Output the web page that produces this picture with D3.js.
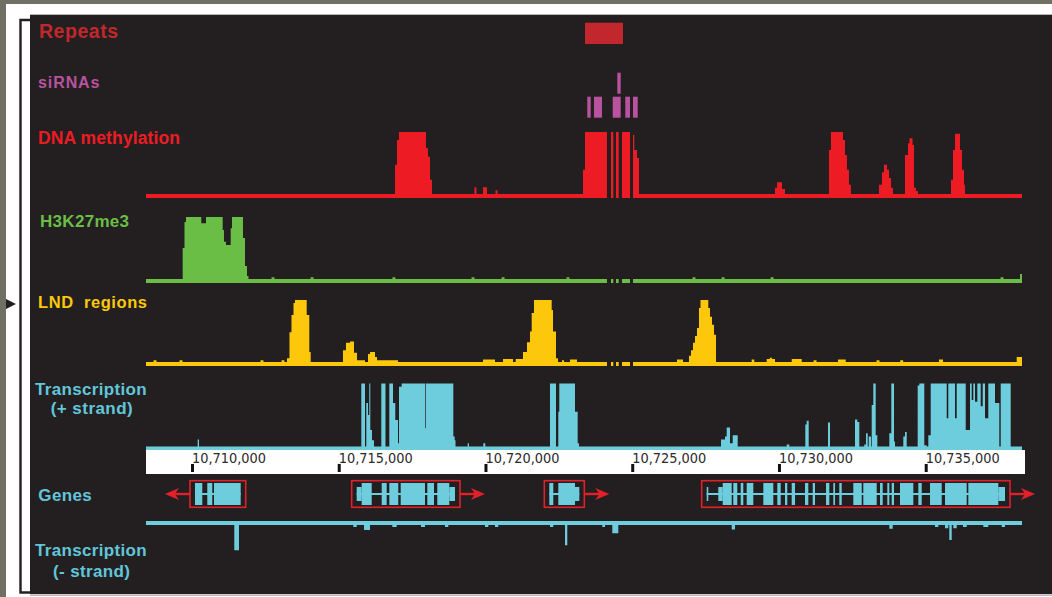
<!DOCTYPE html>
<html>
<head>
<meta charset="utf-8">
<script src="https://cdn.jsdelivr.net/npm/d3@7"></script>
<style>
  html, body { margin: 0; padding: 0; background: #fff; }
  svg { display: block; font-family: "Liberation Sans", Arial, sans-serif; }
</style>
</head>
<body>
<svg id="chart" width="1052" height="597"></svg>
<script>
// ---- Genomic window (bp) and ruler ticks ----
const regionStart = 10708433;
const regionEnd = 10738281;
const tickPositions = [10710000, 10715000, 10720000, 10725000, 10730000, 10735000];

// Unmappable stretches inside the repeat: no signal reported
const unmappedGaps = [
  [10724140, 10724277], [10724355, 10724447], [10724539, 10724652], [10724924, 10725027]
];

// Repeat annotation [start, end]
const repeats = [[10723391, 10724686]];

// siRNA clusters [start, end, row]
const sirnas = [
  [10724492, 10724607, 0],
  [10723469, 10723585, 1], [10723698, 10723970, 1], [10724335, 10724607, 1],
  [10724764, 10724924, 1], [10725027, 10725187, 1]
];

// Binned signal tracks [start, end, relative signal]
const methylation = [
  [10716917, 10716985, 0.47], [10716985, 10717053, 0.87], [10717053, 10717973, 1.0],
  [10717973, 10718041, 0.74], [10718041, 10718110, 0.60], [10718110, 10718178, 0.23],
  [10719626, 10719694, 0.11], [10719916, 10720052, 0.11], [10720341, 10720409, 0.06],
  [10723323, 10723391, 0.39], [10723391, 10724140, 1.0], [10724277, 10724355, 1.0],
  [10724447, 10724539, 1.0], [10724652, 10724924, 1.0], [10725027, 10725071, 0.95],
  [10725071, 10725163, 0.71], [10725163, 10725231, 0.58],
  [10729865, 10729933, 0.10], [10729933, 10730103, 0.19], [10730103, 10730205, 0.08],
  [10731704, 10731772, 0.71], [10731772, 10732181, 1.0], [10732181, 10732249, 0.87],
  [10732249, 10732317, 0.63], [10732317, 10732385, 0.39], [10732385, 10732453, 0.15],
  [10733407, 10733510, 0.15], [10733510, 10733579, 0.35], [10733579, 10733681, 0.47],
  [10733681, 10733749, 0.39], [10733749, 10733817, 0.26], [10733817, 10733885, 0.10],
  [10734294, 10734396, 0.63], [10734396, 10734447, 0.82], [10734447, 10734550, 0.90],
  [10734550, 10734601, 0.79], [10734601, 10734669, 0.10], [10734669, 10734737, 0.05],
  [10735862, 10735930, 0.23], [10735930, 10735998, 0.71], [10735998, 10736169, 0.97],
  [10736169, 10736237, 0.71], [10736237, 10736305, 0.39], [10736305, 10736339, 0.15]
];

const h3k27me3 = [
  [10709683, 10709744, 0.50], [10709744, 10709796, 0.92], [10709796, 10710317, 1.0],
  [10710317, 10710477, 0.90], [10710477, 10711046, 1.0], [10711046, 10711090, 0.79],
  [10711090, 10711159, 0.60], [10711159, 10711319, 0.55], [10711319, 10711363, 0.82],
  [10711363, 10711738, 1.0], [10711738, 10711806, 0.66], [10711806, 10711874, 0.21],
  [10711874, 10711925, 0.05],
  [10712710, 10712810, 0.03], [10714040, 10714140, 0.03], [10716830, 10716930, 0.03],
  [10719525, 10719625, 0.03], [10720550, 10720650, 0.03], [10722760, 10722860, 0.03],
  [10727055, 10727155, 0.03], [10728045, 10728145, 0.03], [10729715, 10729815, 0.03],
  [10737550, 10737650, 0.03], [10738213, 10738281, 0.08]
];

const lnd = [
  [10708690, 10708790, 0.03], [10709575, 10709675, 0.03], [10712335, 10712435, 0.03],
  [10713050, 10713150, 0.03],
  [10713237, 10713322, 0.06], [10713322, 10713390, 0.48], [10713390, 10713459, 0.76],
  [10713459, 10713510, 0.95], [10713510, 10713908, 1.0], [10713908, 10713997, 0.76],
  [10713997, 10714045, 0.16],
  [10715145, 10715247, 0.19], [10715247, 10715384, 0.31], [10715384, 10715520, 0.33],
  [10715520, 10715622, 0.15], [10715622, 10715895, 0.03], [10715997, 10716065, 0.13],
  [10716065, 10716236, 0.16], [10716236, 10716304, 0.08], [10716304, 10717019, 0.03],
  [10719916, 10720324, 0.04], [10720597, 10720938, 0.05], [10721030, 10721278, 0.05],
  [10721278, 10721415, 0.16], [10721415, 10721517, 0.32], [10721517, 10721575, 0.49],
  [10721575, 10721653, 0.79], [10721653, 10722256, 1.0], [10722256, 10722301, 0.84],
  [10722301, 10722403, 0.49], [10722403, 10722471, 0.06],
  [10722608, 10722676, 0.03], [10722880, 10723118, 0.04], [10726526, 10726730, 0.04],
  [10726935, 10727003, 0.10], [10727003, 10727071, 0.19], [10727071, 10727139, 0.31],
  [10727139, 10727207, 0.42], [10727207, 10727275, 0.55], [10727275, 10727326, 0.87],
  [10727326, 10727592, 1.0], [10727592, 10727650, 0.87], [10727650, 10727718, 0.73],
  [10727718, 10727787, 0.60], [10727787, 10727855, 0.44],
  [10729070, 10729160, 0.04], [10729582, 10729690, 0.05], [10729690, 10729760, 0.07],
  [10729760, 10729865, 0.05], [10730434, 10730775, 0.05], [10731180, 10731280, 0.03],
  [10732012, 10732274, 0.04], [10733325, 10733425, 0.03], [10734132, 10734232, 0.03],
  [10735453, 10735590, 0.04], [10738101, 10738281, 0.08]
];

const transcriptionPlus = [
  [10710194, 10710239, 0.11],
  [10715769, 10715895, 1.0], [10715939, 10715997, 0.69], [10715997, 10716041, 0.50],
  [10716041, 10716075, 1.0], [10716075, 10716133, 0.26], [10716133, 10716201, 0.10],
  [10716450, 10716593, 1.0], [10716723, 10716849, 1.0], [10716849, 10716927, 0.69],
  [10716927, 10717019, 0.42], [10717019, 10717053, 0.05], [10717053, 10717145, 0.95],
  [10717145, 10717950, 1.0], [10717950, 10717973, 0.29], [10717973, 10718904, 1.0],
  [10718904, 10718951, 0.16], [10718951, 10718979, 0.10],
  [10719394, 10719438, 0.05], [10719926, 10719994, 0.05],
  [10722198, 10722403, 1.0], [10722481, 10722515, 0.55], [10722515, 10723050, 1.0],
  [10723050, 10723142, 0.55], [10723142, 10723187, 0.05],
  [10728025, 10728161, 0.11], [10728161, 10728219, 0.16], [10728219, 10728332, 0.30],
  [10728332, 10728424, 0.05], [10728424, 10728594, 0.18],
  [10730264, 10730352, 0.03], [10730898, 10730945, 0.35], [10730945, 10731013, 0.41],
  [10731671, 10731739, 0.38], [10732591, 10732670, 0.43], [10732670, 10732738, 0.39],
  [10732908, 10732966, 0.03], [10732966, 10733024, 0.21], [10733058, 10733136, 0.16],
  [10733160, 10733215, 0.66], [10733215, 10733296, 1.0], [10733296, 10733351, 0.18],
  [10733760, 10733828, 0.21], [10733828, 10733920, 1.0], [10733920, 10733954, 0.08],
  [10734237, 10734295, 0.16], [10734295, 10734353, 0.23],
  [10734727, 10734782, 0.97], [10734782, 10734952, 1.0], [10734952, 10735034, 0.02],
  [10735089, 10735171, 0.18], [10735171, 10735716, 1.0], [10735716, 10735770, 0.45],
  [10735770, 10735998, 1.0], [10735998, 10736056, 0.45], [10736056, 10736363, 1.0],
  [10736363, 10736510, 0.26], [10736510, 10736567, 1.0], [10736567, 10736622, 0.74],
  [10736622, 10736680, 1.0], [10736680, 10736759, 0.71], [10736759, 10736874, 1.0],
  [10736874, 10736942, 0.64], [10736942, 10737021, 1.0], [10737021, 10737133, 0.45],
  [10737133, 10737361, 1.0], [10737361, 10737508, 0.69], [10737556, 10737896, 1.0]
];

const transcriptionMinus = [
  [10711441, 10711601, 0.40], [10715496, 10715612, 0.03], [10715861, 10716065, 0.08],
  [10716825, 10716975, 0.03], [10717803, 10717939, 0.03], [10718621, 10718733, 0.03],
  [10719984, 10720096, 0.03], [10720324, 10720437, 0.03], [10722198, 10722311, 0.03],
  [10722710, 10722788, 0.32], [10723981, 10724073, 0.03], [10724321, 10724526, 0.13],
  [10728390, 10728502, 0.07], [10733760, 10733876, 0.06], [10735317, 10735430, 0.03],
  [10735658, 10735770, 0.05], [10735804, 10735886, 0.24], [10735941, 10736056, 0.05],
  [10736271, 10736397, 0.03], [10736963, 10737133, 0.03], [10737590, 10737702, 0.03]
];

// Gene models: exon blocks [start, end, kind]
const gene1Exons = [
  [10710102, 10710351, "cds"], [10710521, 10710692, "cds"], [10710750, 10711659, "cds"]
];
const gene2Exons = [
  [10715612, 10715782, "utr"], [10715782, 10716123, "cds"], [10716464, 10716634, "cds"],
  [10716723, 10717029, "cds"], [10717111, 10717939, "cds"], [10718018, 10718246, "cds"],
  [10718358, 10718767, "cds"], [10718767, 10718961, "utr"]
];
const gene3Exons = [
  [10722175, 10722311, "cds"], [10722481, 10723050, "cds"], [10723050, 10723197, "utr"]
];
const gene4Exons = [
  [10727538, 10727592, "utr"], [10727933, 10728083, "utr"], [10728083, 10728390, "cds"],
  [10728444, 10728580, "cds"], [10728697, 10728785, "cds"], [10728901, 10729126, "cds"],
  [10729467, 10729807, "cds"], [10729944, 10730059, "cds"], [10730206, 10730284, "cds"],
  [10730434, 10730547, "cds"], [10730887, 10731000, "cds"], [10731150, 10731228, "cds"],
  [10731603, 10731716, "cds"], [10731852, 10731910, "cds"], [10732056, 10732138, "cds"],
  [10732533, 10732820, "cds"], [10732874, 10733330, "cds"], [10733443, 10733535, "cds"],
  [10733692, 10733760, "cds"], [10733841, 10733920, "cds"], [10734124, 10734578, "cds"],
  [10734748, 10734864, "cds"], [10735147, 10735545, "cds"], [10735658, 10736397, "cds"],
  [10736452, 10737474, "cds"], [10737474, 10737702, "utr"]
];
const geneStrands = ["-", "+", "+", "+"];

// ---- Drawing ----
const svg = d3.select("#chart");
const W = 1052, Hpx = 597;
const C = {
  panel: "#231f20", repeat: "#c1272d", sirna: "#b9529f", methyl: "#ed1c24",
  green: "#6abd45", yellow: "#fdc80c", cyan: "#6dcddd", cyanText: "#62c6da",
  box: "#e2202a"
};

// page frame
svg.append("rect").attr("width", W).attr("height", Hpx).attr("fill", "#fff");
svg.append("rect").attr("x", 0).attr("y", 0).attr("width", W).attr("height", 4).attr("fill", "#6f7063");
svg.append("rect").attr("x", 0).attr("y", 0).attr("width", 6).attr("height", Hpx).attr("fill", "#6f7063");
svg.append("rect").attr("x", 30).attr("y", 14).attr("width", W - 30).attr("height", 1).attr("fill", "#b5b5b5");
svg.append("rect").attr("x", 30).attr("y", 15).attr("width", W - 30).attr("height", 579).attr("fill", C.panel);
svg.append("rect").attr("x", 30).attr("y", 594.5).attr("width", W - 30).attr("height", 1.2).attr("fill", "#9a9a9a");
svg.append("path").attr("d", "M30,20 H20.5 V592.5 H30")
  .attr("fill", "none").attr("stroke", C.panel).attr("stroke-width", 2.4);
svg.append("path").attr("d", "M6,299 L16,304 L6,309 Z").attr("fill", C.panel);

const x = d3.scaleLinear().domain([regionStart, regionEnd]).range([146, 1022]);

function segments(gaps) {
  const segs = [];
  let s = regionStart;
  gaps.forEach(([a, b]) => { segs.push([s, a]); s = b; });
  segs.push([s, regionEnd]);
  return segs;
}

function stepPoints(bins, s, e) {
  const pts = [[s, 0]];
  bins.filter(b => b[0] >= s && b[1] <= e)
    .sort((a, b) => a[0] - b[0])
    .forEach(([a, b, v]) => { pts.push([a, v]); pts.push([b, 0]); });
  pts.push([e, 0]);
  return pts;
}

// signal track: a thin band at zero plus stepped bins above (or below) it
function drawTrack(bins, opt) {
  const g = svg.append("g");
  const y = d3.scaleLinear().domain([0, 1]).range(
    opt.down ? [opt.bandBottom, opt.bandBottom + opt.h] : [opt.bandTop, opt.bandTop - opt.h]);
  const area = d3.area().curve(d3.curveStepAfter).x(d => x(d[0]));
  if (opt.down) area.y0(opt.bandTop).y1(d => y(d[1]));
  else area.y0(opt.bandBottom).y1(d => y(d[1]));
  segments(opt.gaps || []).forEach(([s, e]) => {
    g.append("path").attr("d", area(stepPoints(bins, s, e))).attr("fill", opt.color);
  });
}

drawTrack(methylation, { bandTop: 194, bandBottom: 198, h: 62, color: C.methyl, gaps: unmappedGaps });
drawTrack(h3k27me3, { bandTop: 279, bandBottom: 283, h: 62, color: C.green, gaps: unmappedGaps });
drawTrack(lnd, { bandTop: 362, bandBottom: 366, h: 62, color: C.yellow, gaps: unmappedGaps });
drawTrack(transcriptionPlus, { bandTop: 446.5, bandBottom: 450, h: 63, color: C.cyan });
drawTrack(transcriptionMinus, { bandTop: 521, bandBottom: 525, h: 63, color: C.cyan, down: true });

// repeats and siRNAs
svg.append("g").selectAll("rect").data(repeats).join("rect")
  .attr("x", d => x(d[0])).attr("width", d => x(d[1]) - x(d[0]))
  .attr("y", 22.7).attr("height", 21.3).attr("fill", C.repeat);
svg.append("g").selectAll("rect").data(sirnas).join("rect")
  .attr("x", d => x(d[0])).attr("width", d => x(d[1]) - x(d[0]))
  .attr("y", d => 72.7 + d[2] * 24).attr("height", 21).attr("fill", C.sirna);

// coordinate ruler
svg.append("rect").attr("x", x.range()[0]).attr("y", 450)
  .attr("width", x.range()[1] + 3 - x.range()[0]).attr("height", 24).attr("fill", "#fff");
const axis = svg.append("g").attr("transform", "translate(0,472)")
  .call(d3.axisTop(x).tickValues(tickPositions).tickSize(8).tickFormat(d3.format(",")));
axis.select(".domain").remove();
axis.selectAll(".tick line").attr("stroke", "#111").attr("stroke-width", 3);
axis.selectAll(".tick text")
  .attr("text-anchor", "start").attr("x", -0.5).attr("y", -9).attr("dy", null)
  .attr("fill", "#2a2a2a").style("font-family", "'DejaVu Sans', Verdana, sans-serif")
  .style("font-size", "13.5px").attr("textLength", 74).attr("lengthAdjust", "spacingAndGlyphs");

// genes
const geneY = 494;
[gene1Exons, gene2Exons, gene3Exons, gene4Exons].forEach((exons, i) => {
  const g = svg.append("g");
  const s = d3.min(exons, d => d[0]), e = d3.max(exons, d => d[1]);
  g.append("line").attr("x1", x(s)).attr("x2", x(e)).attr("y1", geneY).attr("y2", geneY)
    .attr("stroke", C.cyan).attr("stroke-width", 2);
  g.selectAll("rect").data(exons).join("rect")
    .attr("x", d => x(d[0])).attr("width", d => x(d[1]) - x(d[0]))
    .attr("y", d => d[2] === "cds" ? geneY - 11 : geneY - 7)
    .attr("height", d => d[2] === "cds" ? 22 : 14)
    .attr("fill", C.cyan);
  const bx0 = x(s) - 5, bx1 = x(e) + 5;
  g.append("rect").attr("x", bx0).attr("y", geneY - 13.3).attr("width", bx1 - bx0).attr("height", 26.6)
    .attr("fill", "none").attr("stroke", C.box).attr("stroke-width", 1.6);
  const dir = geneStrands[i] === "+" ? 1 : -1;
  const x0 = dir > 0 ? bx1 : bx0;
  const tip = x0 + dir * 25;
  g.append("line").attr("x1", x0).attr("x2", tip - dir * 6).attr("y1", geneY).attr("y2", geneY)
    .attr("stroke", C.box).attr("stroke-width", 2.4);
  g.append("path")
    .attr("d", `M${tip},${geneY} L${tip - dir * 14},${geneY - 6} L${tip - dir * 10},${geneY} L${tip - dir * 14},${geneY + 6} Z`)
    .attr("fill", C.box);
});

// track labels
const labelRows = [
  { t: "Repeats", x: 39, y: 37.5, fs: 19.5, w: 79, c: C.repeat },
  { t: "siRNAs", x: 38, y: 88.3, fs: 16, w: 61.5, c: C.sirna },
  { t: "DNA methylation", x: 38, y: 144.3, fs: 17.5, w: 142, c: C.methyl },
  { t: "H3K27me3", x: 40, y: 227.3, fs: 17, w: 89, c: C.green },
  { t: "LND  regions", x: 38, y: 308.3, fs: 16.5, w: 109, c: C.yellow },
  { t: "Transcription", x: 35, y: 395, fs: 17, w: 111.7, c: C.cyanText },
  { t: "(+ strand)", x: 50.7, y: 413.5, fs: 17, w: 82, c: C.cyanText },
  { t: "Genes", x: 38.3, y: 500.5, fs: 17, w: 53.4, c: C.cyanText },
  { t: "Transcription", x: 35, y: 555.8, fs: 17, w: 111.7, c: C.cyanText },
  { t: "(- strand)", x: 53, y: 577, fs: 17, w: 77, c: C.cyanText }
];
svg.append("g").selectAll("text").data(labelRows).join("text")
  .attr("x", d => d.x).attr("y", d => d.y)
  .attr("textLength", d => d.w).attr("lengthAdjust", "spacing")
  .style("white-space", "pre")
  .style("font-size", d => d.fs + "px").style("font-weight", "bold")
  .attr("fill", d => d.c)
  .text(d => d.t);
</script>
</body>
</html>
